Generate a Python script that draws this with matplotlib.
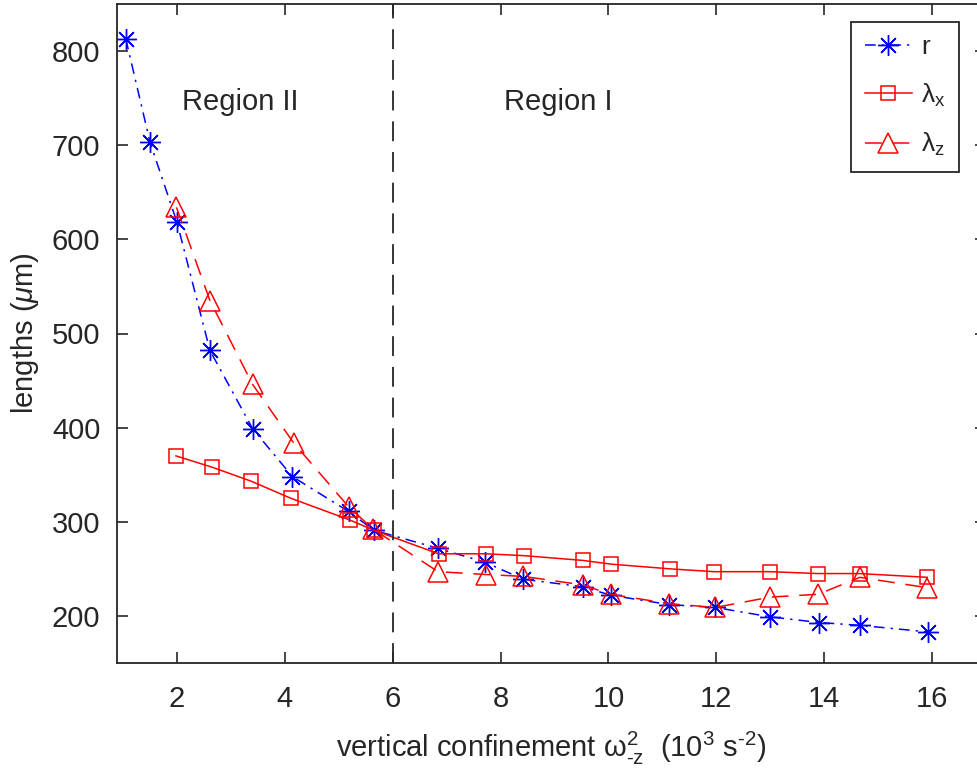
import matplotlib
matplotlib.use("Agg")
import matplotlib.pyplot as plt

plt.rcParams['font.family'] = ['Liberation Sans', 'DejaVu Sans']
plt.rcParams['mathtext.fontset'] = 'custom'
plt.rcParams['mathtext.rm'] = 'Liberation Sans'
plt.rcParams['mathtext.it'] = 'Liberation Sans:italic'
plt.rcParams['mathtext.default'] = 'regular'

# data
r_x = [1.05, 1.50, 2.00, 2.61, 3.40, 4.14, 5.18, 5.65, 6.83, 7.71, 8.42, 9.52, 10.04, 11.13, 11.98, 13.00, 13.91, 14.66, 15.93]
r_y = [813, 703, 618, 482, 399, 348, 311, 291, 272, 257, 239, 231, 222, 212, 209, 199, 193, 190, 183]

lx_x = [1.98, 2.65, 3.38, 4.11, 5.20, 5.65, 6.85, 7.73, 8.44, 9.52, 10.05, 11.14, 11.96, 13.00, 13.89, 14.66, 15.91]
lx_y = [370, 358, 343, 325, 302, 291, 266, 266, 264, 259, 255, 250, 247, 247, 245, 245, 241]

lz_x = [1.99, 2.61, 3.40, 4.16, 5.18, 5.64, 6.84, 7.73, 8.42, 9.52, 10.04, 11.13, 11.98, 13.00, 13.89, 14.66, 15.91]
lz_y = [634, 535, 446, 384, 316, 292, 247, 244, 242, 233, 223, 213, 209, 220, 223, 241, 230]

xticks = [2, 4, 6, 8, 10, 12, 14, 16]
yticks = [200, 300, 400, 500, 600, 700, 800]
boundary = 6

axc = '#262626'
fig = plt.figure(figsize=(9.77, 7.78), dpi=100)
ax = fig.add_axes([117/977, 1 - 663/778, 869/977, 659/778])

ax.plot(r_x, r_y, color='blue', lw=1.1, dashes=(7, 4, 1.5, 4),
        marker=(8, 2, 0), ms=15, mew=1.0, label='r')
ax.plot(lx_x, lx_y, color='red', lw=1.1, ls='-',
        marker='s', ms=10.5, mfc='none', mew=1.1, label='λ$_{x}$')
ax.plot(lz_x, lz_y, color='red', lw=1.1, dashes=(11, 7),
        marker='^', ms=14, mfc='none', mew=1.1, label='λ$_{z}$')

ax.axvline(boundary, color=axc, lw=1.3, dashes=(11, 6))

ax.text(3.17, 746, 'Region II', fontsize=21, color=axc, ha='center', va='center')
ax.text(9.06, 746, 'Region I', fontsize=21, color=axc, ha='center', va='center')

ax.set_xlim(0.887, 17.0)
ax.set_ylim(150, 850)
ax.set_xticks(xticks)
ax.set_yticks(yticks)
ax.tick_params(direction='in', length=8, width=1.2, colors=axc, labelsize=21,
               top=True, right=True)
ax.tick_params(axis='x', pad=16)
ax.tick_params(axis='y', pad=12)
for s in ax.spines.values():
    s.set_color(axc)
    s.set_linewidth(1.3)

ax.set_xlabel(r'vertical confinement $\omega^{2}_{\text{-}z}$  (10$^{3}$ s$^{\text{-}2}$)',
              fontsize=21, color=axc, labelpad=12)
ax.set_ylabel(r'lengths ($\mathit{\mu}$m)', fontsize=21, color=axc, labelpad=8)

leg = ax.legend(loc='upper right', bbox_to_anchor=(0.969, 0.9727), borderaxespad=0,
                fontsize=19, fancybox=False, framealpha=1, edgecolor=axc,
                numpoints=1, handlelength=1.8, handletextpad=0.35, labelspacing=0.85,
                borderpad=0.5)
leg.get_frame().set_linewidth(1.3)
for t in leg.get_texts():
    t.set_color(axc)

fig.savefig('out.png', dpi=100)
